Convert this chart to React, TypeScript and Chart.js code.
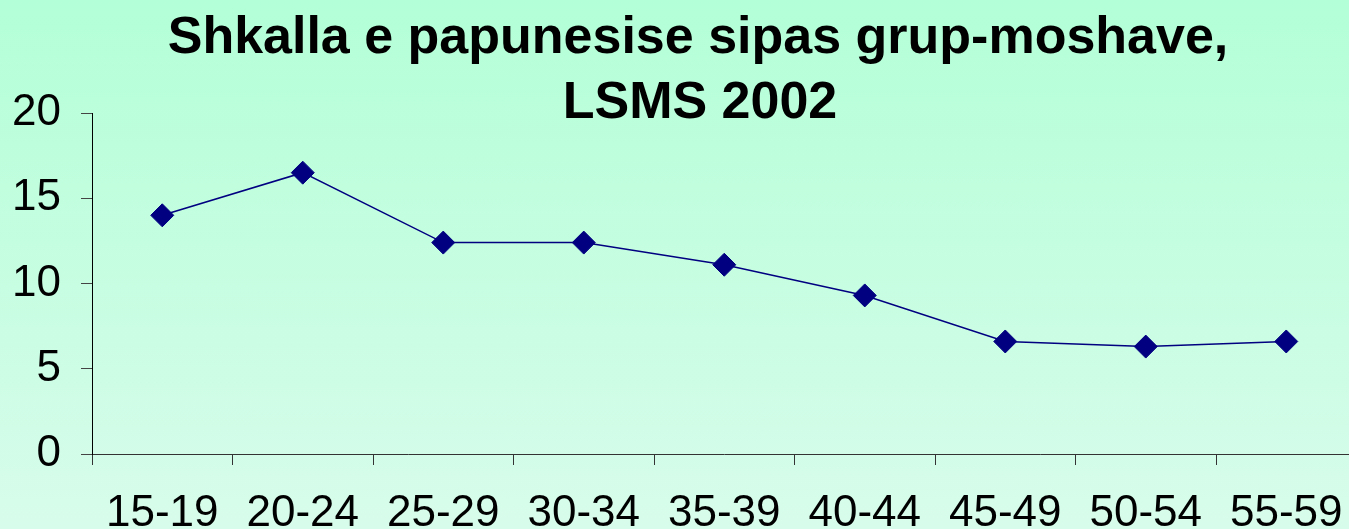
import React, { useEffect, useRef } from "react";
import { Chart, registerables } from "chart.js";

Chart.register(...registerables);

const titleLines = ["Shkalla e papunesise sipas grup-moshave,", "LSMS 2002"];
const categories = ["15-19", "20-24", "25-29", "30-34", "35-39", "40-44", "45-49", "50-54", "55-59"];
const unemploymentRate = [14.0, 16.5, 12.4, 12.4, 11.1, 9.3, 6.6, 6.3, 6.6];
const yTicks = [0, 5, 10, 15, 20];

const FONT = "'Liberation Sans', Arial, sans-serif";

const titlePlugin = {
  id: "customTitle",
  afterDraw(chart: any) {
    const ctx = chart.ctx;
    ctx.save();
    ctx.fillStyle = "#000";
    ctx.font = `bold 52px ${FONT}`;
    ctx.textAlign = "center";
    ctx.textBaseline = "alphabetic";
    ctx.fillText(titleLines[0], 698, 53);
    ctx.fillText(titleLines[1], 700, 118);
    ctx.restore();
  },
};

export default function App() {
  const ref = useRef<HTMLCanvasElement>(null);
  useEffect(() => {
    if (!ref.current) return;
    const chart = new Chart(ref.current, {
      type: "line",
      data: {
        labels: categories,
        datasets: [
          {
            data: unemploymentRate,
            borderColor: "#000080",
            borderWidth: 1.5,
            backgroundColor: "#000080",
            pointStyle: "rectRot",
            pointRadius: 11.5,
            pointBorderWidth: 1,
            pointBorderColor: "#000080",
            pointBackgroundColor: "#000080",
            tension: 0,
          },
        ],
      },
      options: {
        responsive: false,
        animation: false,
        layout: { padding: { top: 113, left: 0, right: 23.5, bottom: 0 } },
        plugins: { legend: { display: false }, tooltip: { enabled: false }, title: { display: false } },
        scales: {
          x: {
            type: "category",
            offset: true,
            grid: {
              offset: true,
              drawOnChartArea: false,
              drawTicks: true,
              tickLength: 11,
              color: "#333",
              lineWidth: 1,
            },
            border: { display: true, color: "#333", width: 1 },
            ticks: {
              color: "#000",
              font: { family: FONT, size: 44, lineHeight: 1.2 },
              padding: 22,
              maxRotation: 0,
              autoSkip: false,
            },
            afterFit(scale: any) {
              scale.height = 75;
            },
          },
          y: {
            min: 0,
            max: 20,
            afterBuildTicks(scale: any) {
              scale.ticks = yTicks.map((v) => ({ value: v }));
            },
            grid: {
              drawOnChartArea: false,
              drawTicks: true,
              tickLength: 11,
              color: "#444",
              lineWidth: 1,
            },
            border: { display: true, color: "#000", width: 1 },
            ticks: {
              color: "#000",
              font: { family: FONT, size: 44, lineHeight: 1.2 },
              padding: 20,
            },
            afterFit(scale: any) {
              scale.width = 92;
            },
          },
        },
      },
      plugins: [titlePlugin],
    });
    return () => chart.destroy();
  }, []);

  return (
    <div
      style={{
        position: "absolute",
        left: 0,
        top: 0,
        width: 1349,
        height: 529,
        overflow: "hidden",
        background: "linear-gradient(to bottom, rgb(179,255,215) 0%, rgb(216,252,235) 100%)",
      }}
    >
      <canvas ref={ref} width={1380} height={529} style={{ display: "block", width: 1380, height: 529 }} />
    </div>
  );
}
